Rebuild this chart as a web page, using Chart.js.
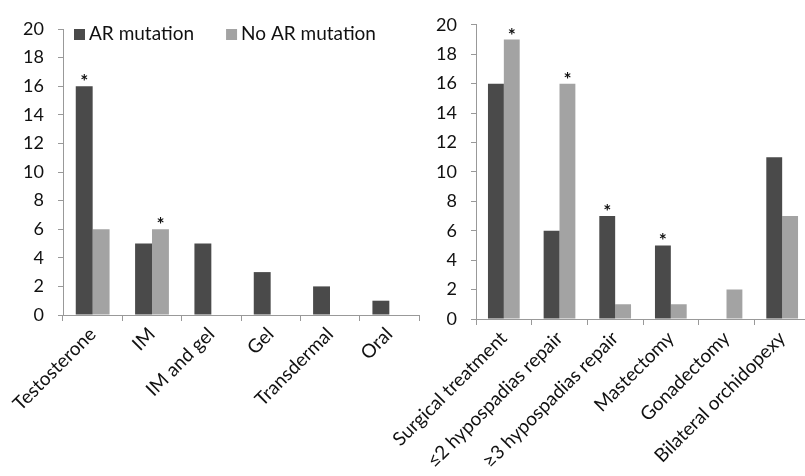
<!DOCTYPE html>
<html>
<head>
<meta charset="utf-8">
<script src="https://cdn.jsdelivr.net/npm/chart.js@4"></script>
<style>
  body { margin: 0; background: #fff; overflow: hidden; }
  .box { position: absolute; top: 0; height: 476px; }
  #left-box { left: 0; width: 425px; }
  #right-box { left: 370px; width: 440px; }
</style>
</head>
<body>
<div class="box" id="left-box"><canvas id="left-chart"></canvas></div>
<div class="box" id="right-box"><canvas id="right-chart"></canvas></div>
<script>
const seriesNames = ["AR mutation", "No AR mutation"];
const seriesColors = ["#4a4a4a", "#a3a3a3"];

const leftCategories = ["Testosterone", "IM", "IM and gel", "Gel", "Transdermal", "Oral"];
const leftAR = [16, 5, 5, 3, 2, 1];
const leftNoAR = [6, 6, 0, 0, 0, 0];
const leftStarAR = [true, false, false, false, false, false];
const leftStarNoAR = [false, true, false, false, false, false];

const rightCategories = ["Surgical treatment", "\u22642 hypospadias repair", "\u22653 hypospadias repair",
  "Mastectomy", "Gonadectomy", "Bilateral orchidopexy"];
const rightAR = [16, 6, 7, 5, 0, 11];
const rightNoAR = [19, 16, 1, 1, 2, 7];
const rightStarAR = [false, false, true, true, false, false];
const rightStarNoAR = [true, true, false, false, false, false];

const yTicks = [0, 2, 4, 6, 8, 10, 12, 14, 16, 18, 20];
const fontFamily = "Lato, 'Open Sans', sans-serif";

// draws an asterisk above flagged bars
const starPlugin = {
  id: "stars",
  afterDatasetsDraw(chart, args, opts) {
    const ctx = chart.ctx;
    ctx.save();
    ctx.fillStyle = "#111";
    ctx.font = "bold 19px " + fontFamily;
    ctx.textAlign = "center";
    ctx.textBaseline = "alphabetic";
    opts.flags.forEach((flags, di) => {
      const meta = chart.getDatasetMeta(di);
      flags.forEach((on, i) => {
        if (!on) return;
        const bar = meta.data[i];
        ctx.fillText("*", bar.x, bar.y + 2);
      });
    });
    ctx.restore();
  }
};

// legend drawn inside the plot area, one row
const legendPlugin = {
  id: "innerLegend",
  afterDraw(chart, args, opts) {
    if (!opts.show) return;
    const ctx = chart.ctx;
    const area = chart.chartArea;
    let x = area.left + 11;
    const yMid = 34;
    ctx.save();
    ctx.font = "19px " + fontFamily;
    ctx.textBaseline = "middle";
    ctx.textAlign = "left";
    chart.data.datasets.forEach(ds => {
      ctx.fillStyle = ds.backgroundColor;
      ctx.fillRect(x, yMid - 5, 11, 11);
      ctx.fillStyle = "#111";
      ctx.fillText(ds.label, x + 15, yMid);
      x += 15 + ctx.measureText(ds.label).width + 32;
    });
    ctx.restore();
  }
};

function makeChart(canvas, labels, ar, noAr, flags, showLegend, axisLeft, topPad, axisY, rightPad) {
  return new Chart(canvas, {
    type: "bar",
    data: {
      labels,
      datasets: [
        { label: seriesNames[0], data: ar, backgroundColor: seriesColors[0] },
        { label: seriesNames[1], data: noAr, backgroundColor: seriesColors[1] }
      ]
    },
    options: {
      responsive: true,
      maintainAspectRatio: false,
      animation: false,
      layout: { padding: { top: topPad, right: rightPad, left: 0, bottom: 0 } },
      categoryPercentage: 0.57,
      barPercentage: 1.0,
      plugins: {
        tooltip: { enabled: false },
        legend: { display: false },
        stars: { flags },
        innerLegend: { show: showLegend }
      },
      scales: {
        x: {
          grid: { offset: true, drawOnChartArea: false, color: "#999", tickLength: 6 },
          border: { color: "#999" },
          ticks: {
            color: "#111",
            font: { size: 19, family: fontFamily },
            maxRotation: 45,
            minRotation: 45,
            autoSkip: false,
            padding: 2
          },
          afterFit(scale) {
            scale.height = 476 - axisY;
            // let rotated labels hang past the edges, as in the original
            scale.paddingLeft = 0;
            scale.paddingRight = 0;
          }
        },
        y: {
          min: 0,
          max: 20,
          afterBuildTicks(scale) { scale.ticks = yTicks.map(v => ({ value: v })); },
          grid: { drawOnChartArea: false, color: "#999", tickLength: 5 },
          border: { color: "#999" },
          ticks: {
            color: "#111",
            font: { size: 18, family: fontFamily },
            padding: 14
          },
          afterFit(scale) { scale.width = axisLeft; }
        }
      }
    },
    plugins: [starPlugin, legendPlugin]
  });
}

makeChart(document.getElementById("left-chart"), leftCategories, leftAR, leftNoAR,
  [leftStarAR, leftStarNoAR], true, 63, 29, 315, 6);
makeChart(document.getElementById("right-chart"), rightCategories, rightAR, rightNoAR,
  [rightStarAR, rightStarNoAR], false, 106, 21, 319, 0);
</script>
</body>
</html>
